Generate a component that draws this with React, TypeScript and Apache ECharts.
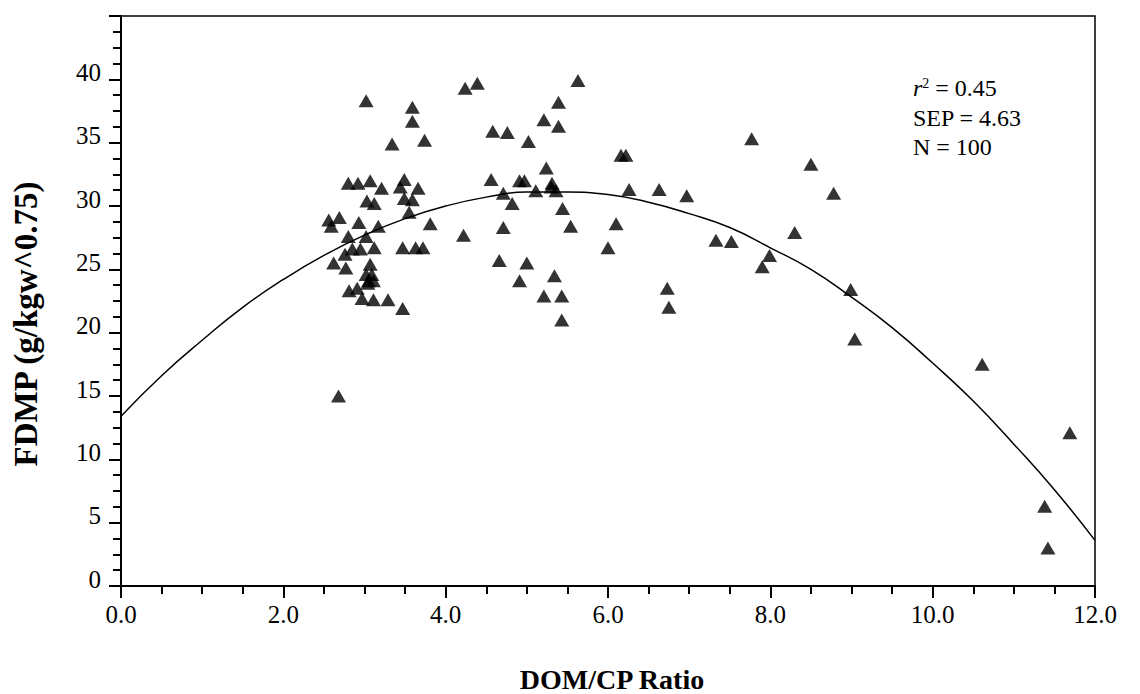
import React, { useEffect, useRef } from "react";
import * as echarts from "echarts";

const FONT = "'Liberation Serif', 'Times New Roman', serif";

// Observed points: DOM/CP ratio (x) vs FDMP (y)
const domCpRatio: number[] = [
  2.56, 2.59, 2.69, 2.62, 2.68, 2.80, 2.76, 2.77, 2.80, 2.81,
  2.85, 2.92, 2.91, 2.93, 2.95, 2.97, 3.02, 3.02, 3.03, 3.02,
  3.07, 3.07, 3.05, 3.12, 3.12, 3.11, 3.17, 3.21, 3.29, 3.34,
  3.44, 3.49, 3.47, 3.47, 3.49, 3.59, 3.55, 3.59, 3.59, 3.63,
  3.66, 3.72, 3.74, 3.81, 3.09, 3.11, 3.04,
  4.22, 4.24, 4.39, 4.56, 4.58, 4.66, 4.71, 4.71, 4.76, 4.82,
  4.91, 4.91, 4.97, 5.00, 5.02, 5.11, 5.21, 5.21, 5.24, 5.31,
  5.34, 5.39, 5.39, 5.36, 5.44, 5.43, 5.43, 5.54, 5.63, 5.30,
  6.00, 6.10, 6.16, 6.22, 6.26, 6.63, 6.73, 6.75, 6.97, 7.33,
  7.52, 7.77, 7.90, 7.99, 8.30, 8.50, 8.78, 8.99, 9.04, 10.61,
  11.38, 11.42, 11.69,
];
const fdmp: number[] = [
  28.9, 28.4, 29.1, 25.5, 15.0, 27.6, 26.2, 25.1, 31.8, 23.3,
  26.6, 31.8, 23.5, 28.7, 26.6, 22.7, 38.3, 27.6, 30.4, 24.6,
  32.0, 25.4, 24.1, 30.2, 26.7, 22.6, 28.4, 31.4, 22.6, 34.9,
  31.5, 32.1, 26.7, 21.9, 30.6, 30.5, 29.5, 37.8, 36.7, 26.7,
  31.4, 26.7, 35.2, 28.6, 24.6, 24.1, 23.9,
  27.7, 39.3, 39.7, 32.1, 35.9, 25.7, 31.0, 28.3, 35.8, 30.2,
  24.1, 32.0, 32.0, 25.5, 35.1, 31.2, 36.8, 22.9, 33.0, 31.8,
  24.5, 38.2, 36.3, 31.2, 29.8, 22.9, 21.0, 28.4, 39.9, 31.5,
  26.7, 28.6, 34.0, 34.0, 31.3, 31.3, 23.5, 22.0, 30.8, 27.3,
  27.2, 35.3, 25.2, 26.1, 27.9, 33.3, 31.0, 23.4, 19.5, 17.5,
  6.3, 3.0, 12.1,
];

// Fitted curve at every 0.5 of x
const curveX: number[] = [
  0, 0.5, 1, 1.5, 2, 2.5, 3, 3.5, 4, 4.5, 5, 5.5,
  6, 6.5, 7, 7.5, 8, 8.5, 9, 9.5, 10, 10.5, 11, 11.5, 12,
];
const curveY: number[] = [
  13.4, 16.6, 19.4, 22.0, 24.2, 26.1, 27.7, 29.0, 30.0, 30.7, 31.1, 31.1,
  30.9, 30.3, 29.4, 28.3, 26.7, 25.0, 22.8, 20.4, 17.6, 14.6, 11.2, 7.6, 3.6,
];

const statLines: string[] = ["SEP = 4.63", "N = 100"];

export default function App() {
  const ref = useRef<HTMLDivElement>(null);

  useEffect(() => {
    if (!ref.current) return;
    const chart = echarts.init(ref.current, null, { renderer: "svg" });

    const scatterData = domCpRatio.map((x, i) => [x, fdmp[i]]);
    const curveData = curveX.map((x, i) => [x, curveY[i]]);

    const axisCommon = {
      axisLine: { show: true, lineStyle: { color: "#000", width: 2 } },
      axisTick: { show: true, inside: false, length: 12, lineStyle: { color: "#000", width: 2 } },
      minorTick: { show: true, splitNumber: 4, length: 8, lineStyle: { color: "#000", width: 2 } },
      splitLine: { show: false },
      minorSplitLine: { show: false },
    };

    chart.setOption({
      animation: false,
      backgroundColor: "#fff",
      grid: {
        left: 121,
        right: 45,
        top: 16,
        bottom: 108,
        show: true,
        borderColor: "#000",
        borderWidth: 1.5,
        backgroundColor: "transparent",
      },
      xAxis: {
        type: "value",
        min: 0,
        max: 12,
        interval: 2,
        ...axisCommon,
        axisLabel: {
          margin: 16,
          fontFamily: FONT,
          fontSize: 25,
          color: "#000",
          formatter: (v: number) => v.toFixed(1),
        },
      },
      yAxis: {
        type: "value",
        min: 0,
        max: 45,
        interval: 5,
        ...axisCommon,
        axisLabel: {
          margin: 20,
          fontFamily: FONT,
          fontSize: 25,
          color: "#000",
          verticalAlign: "bottom",
          lineHeight: 14,
          formatter: (v: number) => (v === 45 ? "" : String(v)),
        },
      },
      series: [
        {
          type: "line",
          data: curveData,
          smooth: true,
          showSymbol: false,
          lineStyle: { color: "#000", width: 1.5 },
          z: 2,
        },
        {
          type: "scatter",
          data: scatterData,
          symbol: "triangle",
          symbolSize: [15, 13],
          itemStyle: { color: "#000" },
          z: 3,
        },
      ],
      graphic: [
        {
          type: "text",
          left: 913,
          top: 76,
          style: {
            text: "{i|r}{s|2} = 0.45",
            fontFamily: FONT,
            fontSize: 24,
            fill: "#000",
            rich: {
              i: { fontFamily: FONT, fontSize: 24, fontStyle: "italic", fill: "#000" },
              s: { fontFamily: FONT, fontSize: 14, fill: "#000", verticalAlign: "top", padding: [0, 0, 10, 0] },
            },
          },
        },
        {
          type: "text",
          left: 913,
          top: 106,
          style: { text: statLines[0], fontFamily: FONT, fontSize: 24, fill: "#000" },
        },
        {
          type: "text",
          left: 913,
          top: 135,
          style: { text: statLines[1], fontFamily: FONT, fontSize: 24, fill: "#000" },
        },
        {
          type: "text",
          x: 612,
          y: 679,
          style: {
            text: "DOM/CP Ratio",
            fontFamily: FONT,
            fontSize: 28,
            lineHeight: 26,
            fontWeight: "bold",
            fill: "#000",
            align: "center",
            verticalAlign: "middle",
          },
        },
        {
          type: "text",
          x: 26,
          y: 324,
          rotation: Math.PI / 2,
          style: {
            text: "FDMP (g/kgw^0.75)",
            fontFamily: FONT,
            fontSize: 33,
            fontWeight: "bold",
            fill: "#000",
            align: "center",
            verticalAlign: "middle",
          },
        },
      ],
    });

    return () => chart.dispose();
  }, []);

  return (
    <div
      ref={ref}
      style={{ position: "fixed", left: 0, top: 0, width: 1140, height: 694, background: "#fff" }}
    />
  );
}
